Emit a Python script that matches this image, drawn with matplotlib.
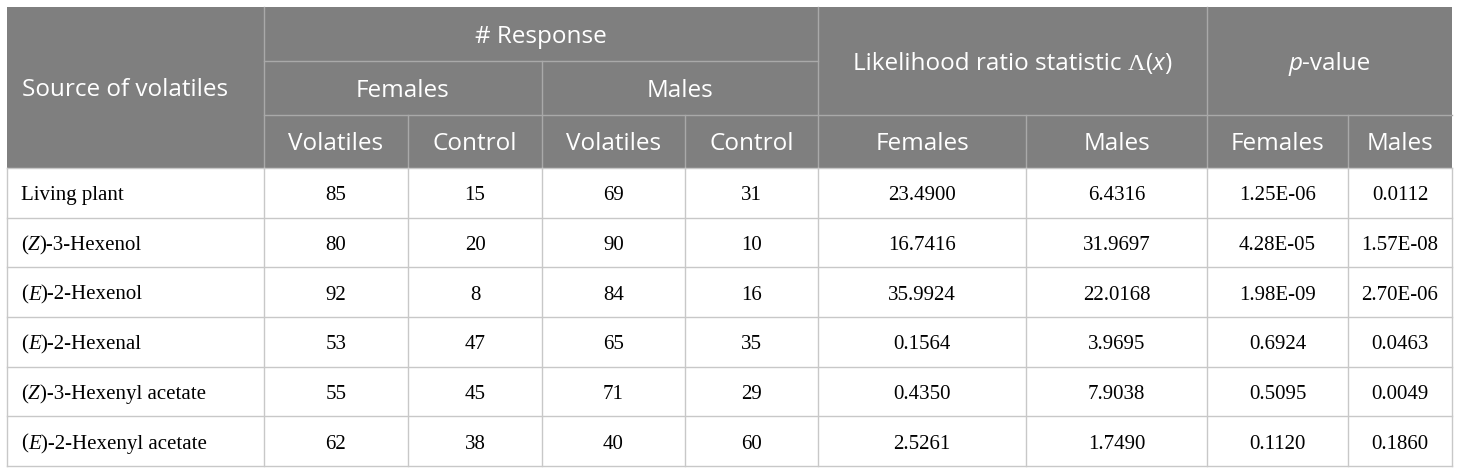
import re
import matplotlib
matplotlib.use("Agg")
import matplotlib.pyplot as plt
from matplotlib.patches import Rectangle

# table data
sources = ["Living plant", "(Z)-3-Hexenol", "(E)-2-Hexenol", "(E)-2-Hexenal",
           "(Z)-3-Hexenyl acetate", "(E)-2-Hexenyl acetate"]
fem_volatiles = [85, 80, 92, 53, 55, 62]
fem_control = [15, 20, 8, 47, 45, 38]
male_volatiles = [69, 90, 84, 65, 71, 40]
male_control = [31, 10, 16, 35, 29, 60]
lr_females = [23.4900, 16.7416, 35.9924, 0.1564, 0.4350, 2.5261]
lr_males = [6.4316, 31.9697, 22.0168, 3.9695, 7.9038, 1.7490]
p_females = [1.25e-06, 4.28e-05, 1.98e-09, 0.6924, 0.5095, 0.1120]
p_males = [0.0112, 1.57e-08, 2.70e-06, 0.0463, 0.0049, 0.1860]
sub_headers = ["Volatiles", "Control", "Volatiles", "Control",
               "Females", "Males", "Females", "Males"]

# layout in pixels
W, H = 1460, 474
cols = [7, 264, 408, 542, 685, 818, 1026, 1207, 1348, 1452]
hrows = [7, 61, 115, 168]
top_body, bottom = 168, 466
nrow = len(sources)
row_h = (bottom - top_body) / nrow

HEAD_BG = "#7f7f7f"
HEAD_LINE = "#a9a9a9"
BODY_LINE = "#c8c8c8"
SANS = "Open Sans"
SERIF = "Liberation Serif"
HFS = 17.5
BFS = 15

fig = plt.figure(figsize=(W / 100, H / 100), dpi=100)
ax = fig.add_axes([0, 0, 1, 1])
ax.set_xlim(0, W)
ax.set_ylim(H, 0)
ax.axis("off")
renderer = fig.canvas.get_renderer()


def rich(x, yc, pieces, ha="center", fs=BFS, color="black", cap=0.36):
    # pieces: (text, family, style); draw side by side on one baseline
    y = yc + fs * 1.389 * cap
    arts = []
    for s, fam, st in pieces:
        arts.append(ax.text(0, y, s, family=fam, fontstyle=st, fontsize=fs,
                            color=color, va="baseline", ha="left"))
    widths = [a.get_window_extent(renderer).width for a in arts]
    total = sum(widths)
    x0 = x - total / 2 if ha == "center" else x
    for a, w in zip(arts, widths):
        a.set_x(x0)
        x0 += w


def name_pieces(s):
    m = re.match(r"\((\w)\)(.*)", s)
    if not m:
        return [(s, SERIF, "normal")]
    return [("(", SERIF, "normal"), (m.group(1), SERIF, "italic"),
            (")" + m.group(2), SERIF, "normal")]


def fmt(v, nd=4):
    if v < 0.001:
        return "{:.2E}".format(v)
    return "{:.{}f}".format(v, nd)


# header background
ax.add_patch(Rectangle((cols[0], hrows[0]), cols[-1] - cols[0], hrows[-1] - hrows[0],
                       facecolor=HEAD_BG, edgecolor="none"))

# header lines
ax.plot([cols[1], cols[5]], [hrows[1], hrows[1]], color=HEAD_LINE, lw=1)
ax.plot([cols[1], cols[9]], [hrows[2], hrows[2]], color=HEAD_LINE, lw=1)
for c in [1, 5, 7]:
    ax.plot([cols[c], cols[c]], [hrows[0], hrows[3]], color=HEAD_LINE, lw=1)
ax.plot([cols[3], cols[3]], [hrows[1], hrows[3]], color=HEAD_LINE, lw=1)
for c in [2, 4, 6, 8]:
    ax.plot([cols[c], cols[c]], [hrows[2], hrows[3]], color=HEAD_LINE, lw=1)

# body grid
for i in range(nrow + 1):
    y = top_body + i * row_h
    ax.plot([cols[0], cols[-1]], [y, y], color=BODY_LINE, lw=1)
for c in cols:
    ax.plot([c, c], [top_body, bottom], color=BODY_LINE, lw=1)


def cx(a, b):
    return (cols[a] + cols[b]) / 2


# header texts
rich(22, (hrows[0] + hrows[3]) / 2, [("Source of volatiles", SANS, "normal")],
     ha="left", fs=HFS, color="white")
rich(cx(1, 5), (hrows[0] + hrows[1]) / 2, [("# Response", SANS, "normal")],
     fs=HFS, color="white")
rich(cx(1, 3), (hrows[1] + hrows[2]) / 2, [("Females", SANS, "normal")],
     fs=HFS, color="white")
rich(cx(3, 5), (hrows[1] + hrows[2]) / 2, [("Males", SANS, "normal")],
     fs=HFS, color="white")
rich(cx(5, 7), (hrows[0] + hrows[2]) / 2,
     [("Likelihood ratio statistic ", SANS, "normal"), ("\u039b", SERIF, "normal"),
      ("(", SANS, "normal"), ("x", SANS, "italic"), (")", SANS, "normal")],
     fs=HFS, color="white")
rich(cx(7, 9), (hrows[0] + hrows[2]) / 2,
     [("p", SANS, "italic"), ("-value", SANS, "normal")], fs=HFS, color="white")
for j, lab in enumerate(sub_headers):
    rich(cx(j + 1, j + 2), (hrows[2] + hrows[3]) / 2, [(lab, SANS, "normal")],
         fs=HFS, color="white")

# body texts
for i in range(nrow):
    yc = top_body + (i + 0.5) * row_h
    rich(21, yc, name_pieces(sources[i]), ha="left")
    vals = [str(fem_volatiles[i]), str(fem_control[i]), str(male_volatiles[i]),
            str(male_control[i]), fmt(lr_females[i]), fmt(lr_males[i]),
            fmt(p_females[i]), fmt(p_males[i])]
    for j, v in enumerate(vals):
        rich(cx(j + 1, j + 2), yc, [(v, SERIF, "normal")])

fig.savefig("out.png", dpi=100)
